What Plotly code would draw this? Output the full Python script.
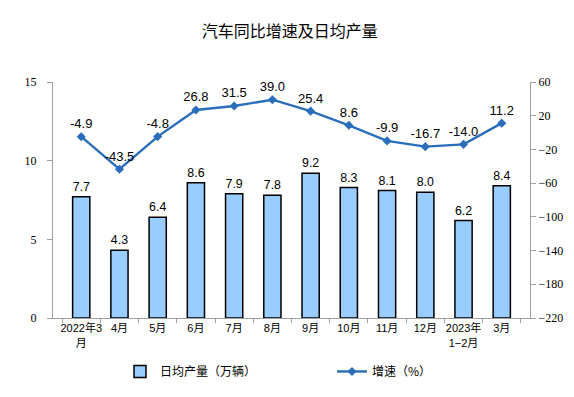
import plotly.graph_objects as go

categories = ["2022年3<br>月", "4月", "5月", "6月", "7月", "8月", "9月", "10月", "11月", "12月", "2023年<br>1−2月", "3月"]
daily_output = [7.7, 4.3, 6.4, 8.6, 7.9, 7.8, 9.2, 8.3, 8.1, 8.0, 6.2, 8.4]
growth = [-4.9, -43.5, -4.8, 26.8, 31.5, 39.0, 25.4, 8.6, -9.9, -16.7, -14.0, 11.2]
left_ticks = [0, 5, 10, 15]
right_ticks = [60, 20, -20, -60, -100, -140, -180, -220]

sans = "Liberation Sans"
serif = "Times New Roman, Liberation Serif, DejaVu Serif, serif"
cjk = "Noto Sans CJK SC"

fig = go.Figure()
fig.add_trace(go.Bar(
    x=categories, y=daily_output, name="日均产量（万辆）",
    marker=dict(color="#99ccff", line=dict(color="#000000", width=1.5)),
    text=[f"{v:.1f}" for v in daily_output], textposition="outside",
    textfont=dict(family=sans, size=13, color="#000"), cliponaxis=False,
    yaxis="y", legend="legend"))
fig.add_trace(go.Scatter(
    x=categories, y=growth, name="增速（%）", mode="lines+markers+text",
    line=dict(color="#2a6ebb", width=2.4),
    marker=dict(symbol="diamond", size=7, color="#2a6ebb"),
    text=[f"{v:.1f}" for v in growth], textposition="top center",
    textfont=dict(family=sans, size=13, color="#000"), cliponaxis=False,
    yaxis="y2", legend="legend2"))

fig.update_layout(
    width=574, height=397,
    margin=dict(l=53, r=44, t=82, b=79, autoexpand=False),
    paper_bgcolor="white", plot_bgcolor="white",
    title=dict(text="汽车同比增速及日均产量", x=0.505, xanchor="center", y=0.92, yanchor="middle",
               font=dict(family=cjk, size=16, color="#000")),
    bargap=0.55,
    showlegend=True,
    legend=dict(x=(120 - 53) / 477, xanchor="left", y=-0.165, yanchor="top",
                font=dict(family=cjk, size=12, color="#000"), itemwidth=30, bgcolor="rgba(0,0,0,0)"),
    legend2=dict(x=(332 - 53) / 477, xanchor="left", y=-0.165, yanchor="top",
                 font=dict(family=cjk, size=12, color="#000"), itemwidth=30, bgcolor="rgba(0,0,0,0)"),
    xaxis=dict(showline=True, linecolor="#a0a0a0", linewidth=1, ticks="outside", ticklen=4,
               tickcolor="#a0a0a0", tickson="boundaries", tickangle=0, automargin=False,
               tickfont=dict(family="Liberation Sans, Noto Sans CJK SC", size=11, color="#000"), showgrid=False),
    yaxis=dict(range=[0, 15], tickvals=left_ticks, showline=True, linecolor="#a0a0a0", linewidth=1,
               ticks="outside", ticklen=5, tickcolor="#a0a0a0", showgrid=False, zeroline=False,
               automargin=False, ticklabelstandoff=8,
               tickfont=dict(family=serif, size=12, color="#000")),
    yaxis2=dict(range=[-220, 60], tickvals=right_ticks, overlaying="y", side="right",
                showline=True, linecolor="#a0a0a0", linewidth=1, ticks="outside", ticklen=5,
                tickcolor="#a0a0a0", showgrid=False, zeroline=False, automargin=False,
                tickfont=dict(family=serif, size=12, color="#000")),
)
fig.write_html("out.html", config={"displayModeBar": False},
               post_script="document.body.style.margin='0';")
